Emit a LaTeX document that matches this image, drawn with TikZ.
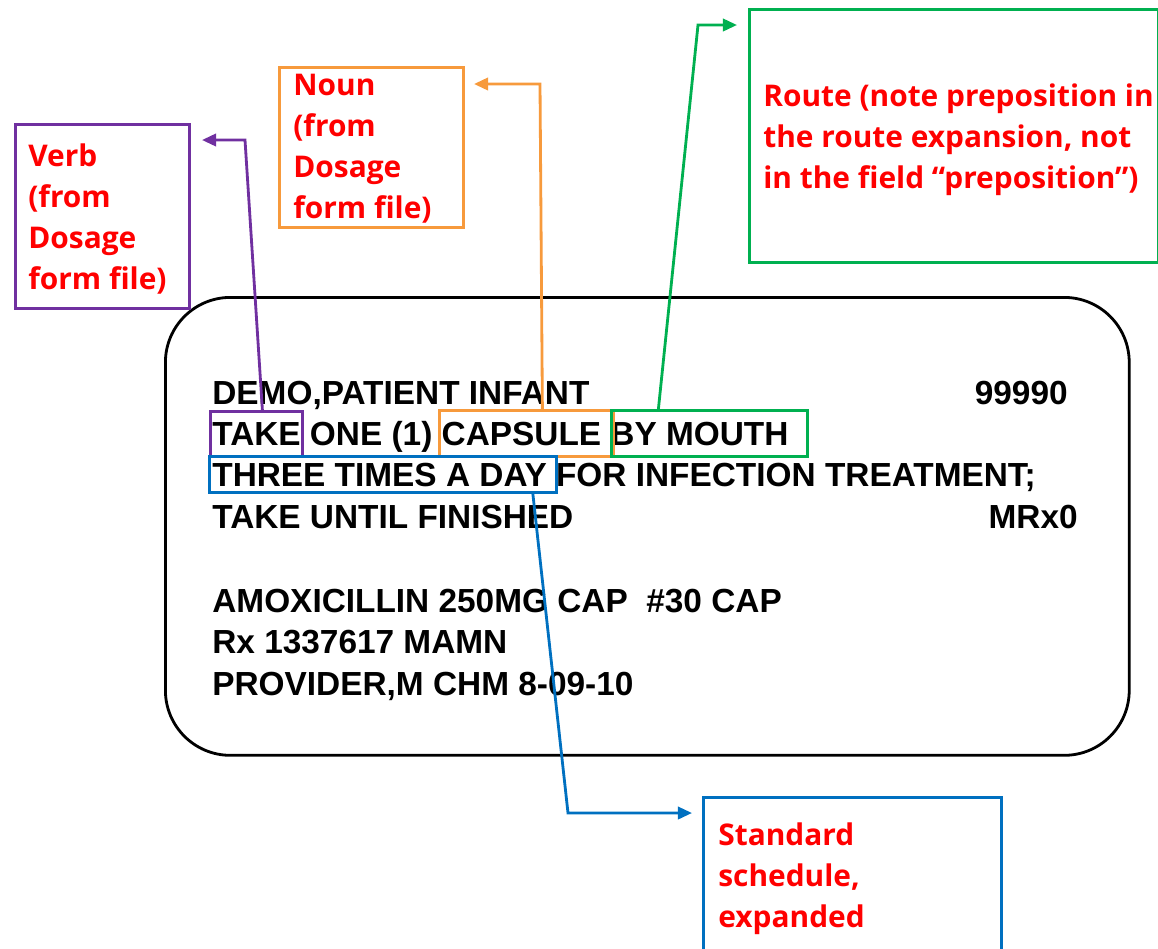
\documentclass[tikz,border=0pt]{standalone}
\usepackage{fontspec}
\setmainfont{Liberation Sans}
\newfontfamily\notefont{Open Sans}
\usepackage{tikz}
\usetikzlibrary{arrows.meta, positioning}

\definecolor{vpurple}{HTML}{7030A0}
\definecolor{norange}{HTML}{F79A3C}
\definecolor{rgreen}{HTML}{00B050}
\definecolor{sblue}{HTML}{0070C0}
\definecolor{notered}{HTML}{FF0000}

\begin{document}
\begin{tikzpicture}[
        x=0.02cm, y=-0.02cm,
        >={Triangle[length=8pt, width=7pt]},
        box/.style={draw, line width=1.6pt, anchor=north west, inner sep=0pt},
        note/.style={anchor=base west, align=left, inner sep=0pt, text=notered,
            font=\notefont\bfseries\fontsize{17}{23.3}\selectfont},
        txt/.style={anchor=base west, inner sep=0pt, font=\bfseries\fontsize{19}{22}\selectfont},
        e/.style={->, line width=1.6pt}
    ]
        \useasboundingbox (0,0) rectangle (1158,948);

        % 标签外框
        \node[box, rounded corners=1.3cm, minimum width=19.28cm, minimum height=9.16cm] (label) at (164,296) {};

        % 标签文字
        \node[txt] (l1) at (212,404) {DEMO,PATIENT INFANT};
        \node[txt, anchor=base east] (n1) at (1068,404) {99990};
        \node[txt] (l2) at (212,445) {TAKE ONE (1) CAPSULE BY MOUTH};
        \node[txt] (l3) at (212,486) {THREE TIMES A DAY FOR INFECTION TREATMENT;};
        \node[txt] (l4) at (212,528) {TAKE UNTIL FINISHED};
        \node[txt, anchor=base east] (n2) at (1078,528) {MRx0};
        \node[txt] (l5) at (212,612) {AMOXICILLIN 250MG CAP\ \ \#30 CAP};
        \node[txt] (l6) at (212,653) {Rx 1337617 MAMN};
        \node[txt] (l7) at (212,695) {PROVIDER,M CHM 8-09-10};

        % 高亮框
        \node[box, draw=vpurple, minimum width=1.84cm, minimum height=0.9cm] (takebox) at (209,410) {};
        \node[box, draw=norange, minimum width=3.48cm, minimum height=0.92cm] (capbox) at (438,409) {};
        \node[box, draw=rgreen, minimum width=3.92cm, minimum height=0.92cm] (mouthbox) at (610,409) {};
        \node[box, draw=sblue, minimum width=6.94cm, minimum height=0.72cm] (daybox) at (208,455) {};

        % 说明框 (文字按最后一行基线放置)
        \node[box, draw=vpurple, minimum width=3.48cm, minimum height=3.68cm] (verbbox) at (14,123) {};
        \node[note] (verb) at (28,289) {Verb\\(from\\Dosage\\form file)};
        \node[box, draw=norange, minimum width=3.68cm, minimum height=3.2cm] (nounbox) at (278,66) {};
        \node[note] (noun) at (293,218) {Noun\\(from\\Dosage\\form file)};
        \node[box, draw=rgreen, minimum width=8.18cm, minimum height=5.06cm] (routebox) at (748,8) {};
        \node[note] (route) at (763,188) {Route (note preposition in\\the route expansion, not\\in the field “preposition”)};
        \node[box, draw=sblue, minimum width=5.96cm, minimum height=3.4cm] (schedbox) at (702,796) {};
        \node[note] (sched) at (718,927) {Standard\\schedule,\\expanded};

        % 箭头端点
        \coordinate (verbtip) at (202,140);
        \coordinate (nountip) at (474,84);
        \coordinate (routetip) at (737,25);
        \coordinate (schedtip) at (692,813);

        % 连线
        \draw[e, vpurple] ([xshift=0.12cm]takebox.north) -- (245,140) -- (verbtip);
        \draw[e, norange] ([xshift=0.32cm]capbox.north) -- (540,84) -- (nountip);
        \draw[e, rgreen] ([xshift=-1.02cm]mouthbox.north) -- (698,25) -- (routetip);
        \draw[e, sblue] ([xshift=3.0cm]daybox.south) -- (568,813) -- (schedtip);
\end{tikzpicture}
\end{document}
